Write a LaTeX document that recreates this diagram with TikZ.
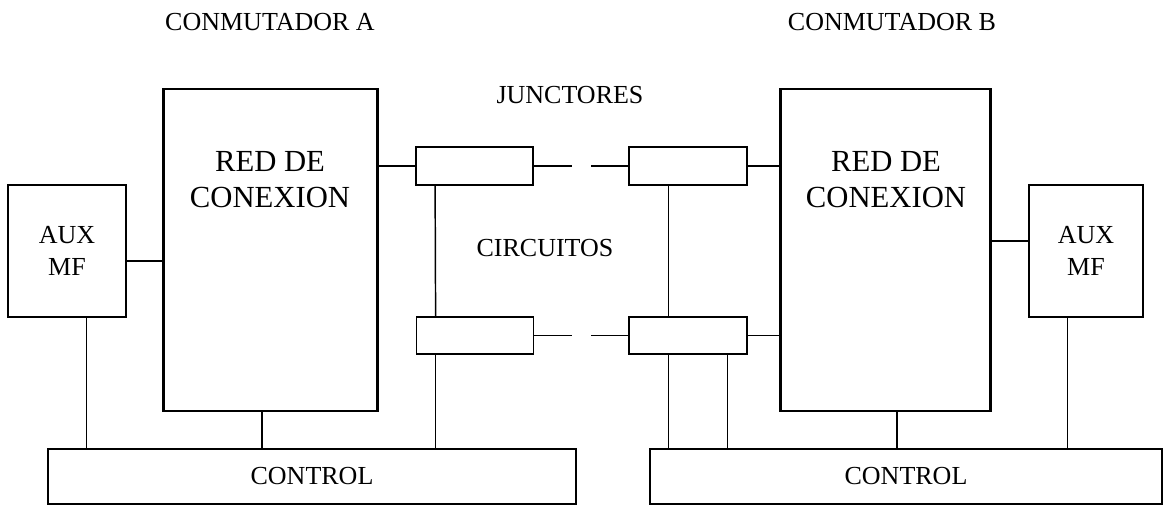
\documentclass[tikz,border=0pt]{standalone}
\usepackage{fontspec}
\setmainfont{Liberation Serif}
\begin{document}
\begin{tikzpicture}[x=0.75pt,y=-0.75pt,
  thinbox/.style={draw,line width=1.1pt,inner sep=0pt,anchor=center},
  redbox/.style={draw,line width=2.2pt,inner sep=0pt,minimum width=161pt,minimum height=241.5pt},
  lbl/.style={font=\fontsize{19.5pt}{24pt}\selectfont,align=center,inner sep=0pt},
  bigl/.style={font=\fontsize{23pt}{27pt}\selectfont,align=center,inner sep=0pt},
  wire/.style={line width=1.1pt}]
\useasboundingbox (0,0) rectangle (1176,505);
% labels
\node[lbl] (tA) at (270,22) {CONMUTADOR A};
\node[lbl] (tB) at (892,22) {CONMUTADOR B};
\node[lbl] (tJ) at (570,95) {JUNCTORES};
\node[lbl] (tC) at (545,248) {CIRCUITOS};
% boxes
\node[thinbox,minimum width=88.5pt,minimum height=99pt,lbl] (auxA) at (67,251) {AUX\\MF};
\node[thinbox,minimum width=85.5pt,minimum height=99pt,lbl] (auxB) at (1086,251) {AUX\\MF};
\node[redbox] (redA) at (270.5,250) {};
\node[redbox,minimum width=158pt] (redB) at (885.5,250) {};
\node[bigl] (redAt) at (270,180) {RED DE\\CONEXION};
\node[bigl] (redBt) at (886,180) {RED DE\\CONEXION};
\node[thinbox,minimum width=88pt,minimum height=28.5pt] (jA1) at (474.5,166) {};
\node[thinbox,minimum width=88pt,minimum height=28pt] (jA2) at (475,335.5) {};
\node[thinbox,minimum width=88.5pt,minimum height=28.5pt] (jB1) at (688,166) {};
\node[thinbox,minimum width=88.5pt,minimum height=28pt] (jB2) at (688,335.5) {};
\node[thinbox,minimum width=396pt,minimum height=41pt,lbl] (ctlA) at (312,476.5) {CONTROL};
\node[thinbox,minimum width=384pt,minimum height=41pt,lbl] (ctlB) at (906,476.5) {CONTROL};
% free ends of the broken trunk lines
\coordinate (dA1) at (572,166);
\coordinate (dB1) at (591,166);
\coordinate (dA2) at (572,335.5);
\coordinate (dB2) at (591,335.5);
% connectors
\draw[wire] ([yshift=-7.5pt]auxA.east) -- ([yshift=-7.5pt]auxA.east -| redA.west);
\draw[wire] (jA1.west -| redA.east) -- (jA1.west);
\draw[wire] (jA1.east) -- (dA1);
\draw[wire] (jA2.east) -- (dA2);
\draw[wire] (dB1) -- (jB1.west);
\draw[wire] (dB2) -- (jB2.west);
\draw[wire] (jB1.east) -- (jB1.east -| redB.west);
\draw[wire] (jB2.east) -- (jB2.east -| redB.west);
\draw[wire] ([yshift=6.75pt]redB.east) -- ([yshift=6.75pt]redB.east -| auxB.west);
\draw[wire] ([xshift=15pt]jA1.south west) -- ([xshift=15pt]jA2.north west);
\draw[wire] ([xshift=15pt]jA2.south west) -- ([xshift=15pt]jA2.south west |- ctlA.north);
\draw[wire] ([xshift=30pt]jB1.south west) -- ([xshift=30pt]jB2.north west);
\draw[wire] ([xshift=30pt]jB2.south west) -- ([xshift=30pt]jB2.south west |- ctlB.north);
\draw[wire] ([xshift=74.25pt]jB2.south west) -- ([xshift=74.25pt]jB2.south west |- ctlB.north);
\draw[wire] ([xshift=59.25pt]auxA.south west) -- ([xshift=59.25pt]auxA.south west |- ctlA.north);
\draw[wire] ([xshift=-6.4pt]redA.south) -- ([xshift=-6.4pt]redA.south |- ctlA.north);
\draw[wire] ([xshift=8.6pt]redB.south) -- ([xshift=8.6pt]redB.south |- ctlB.north);
\draw[wire] ([xshift=29.25pt]auxB.south west) -- ([xshift=29.25pt]auxB.south west |- ctlB.north);
\end{tikzpicture}
\end{document}
